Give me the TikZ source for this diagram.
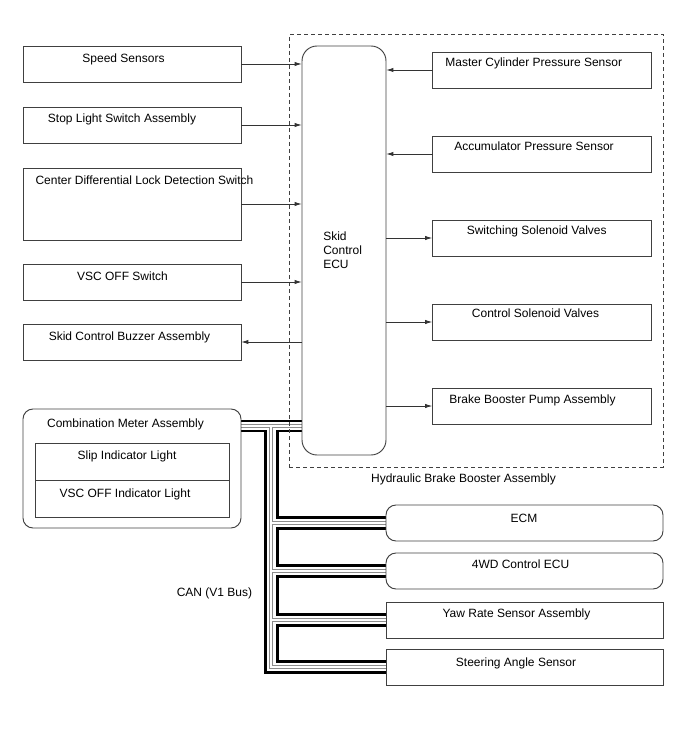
\documentclass[tikz,border=0pt]{standalone}
\usepackage{fontspec}
\setmainfont{Liberation Sans}
\usetikzlibrary{arrows.meta,calc}
\pgfdeclarelayer{bg}
\pgfsetlayers{bg,main}
\begin{document}
\begin{tikzpicture}[x=0.75pt,y=-0.75pt,
  box/.style 2 args={draw=black!75, line width=0.7pt, inner sep=0pt, outer sep=0pt,
    minimum width=#1*0.75pt, minimum height=#2*0.75pt},
  rbox/.style 2 args={box={#1}{#2}, rounded corners=7.5pt},
  dbox/.style 2 args={box={#1}{#2}, dash pattern=on 3pt off 2.25pt},
  lbl/.style={font=\fontsize{9}{10.5}\selectfont, inner sep=0pt, anchor=base},
  arr/.style={draw=black!80, line width=0.7pt, -{Latex[length=5.5pt,width=3.2pt]}},
  canblk/.style={line width=2.2pt, draw=black, line join=miter},
]
\useasboundingbox (0,0) rectangle (688,755);

% dashed hydraulic brake booster assembly
\node[dbox={374}{432.5}] (hb) at (476,250.75) {};
\node[lbl] (hbT) at (463.5,482) {Hydraulic Brake Booster Assembly};

% left boxes
\node[box={218}{36}] (ss) at (132,64) {};
\node[lbl] (ssT) at (123.5,62.3) {Speed Sensors};
\node[box={218}{36}] (sl) at (132,125) {};
\node[lbl] (slT) at (122,123) {Stop Light Switch Assembly};
\node[box={218}{72}] (cd) at (132,204) {};
\node[lbl] (cdT) at (144.5,184.5) {Center Differential Lock Detection Switch};
\node[box={218}{36}] (vo) at (132,282) {};
\node[lbl] (voT) at (122.5,280.5) {VSC OFF Switch};
\node[box={218}{36}] (bz) at (132,342) {};
\node[lbl] (bzT) at (129.5,340.5) {Skid Control Buzzer Assembly};

% combination meter
\node[rbox={218}{119}] (meter) at (132,468.5) {};
\node[lbl] (meterT) at (125.5,427) {Combination Meter Assembly};
\node[box={194}{37}] (slip) at (132,462) {};
\node[lbl] (slipT) at (127,459.5) {Slip Indicator Light};
\node[box={194}{37}] (vscind) at (132,499) {};
\node[lbl] (vscindT) at (125,497) {VSC OFF Indicator Light};

% skid control ECU
\node[box={84}{409}, rounded corners=11.25pt] (ecu) at (344,250.5) {};
\node[lbl, anchor=base west] (ecu1) at (323,240.5) {Skid};
\node[lbl, anchor=base west] (ecu2) at (323,254.5) {Control};
\node[lbl, anchor=base west] (ecu3) at (323,268.5) {ECU};

% right boxes
\node[box={219}{36}] (mc) at (542,70) {};
\node[lbl] (mcT) at (533.7,66.7) {Master Cylinder Pressure Sensor};
\node[box={219}{36}] (acc) at (542,154) {};
\node[lbl] (accT) at (534,150.7) {Accumulator Pressure Sensor};
\node[box={219}{36}] (sw) at (542,238) {};
\node[lbl] (swT) at (536.7,234) {Switching Solenoid Valves};
\node[box={219}{36}] (cs) at (542,322) {};
\node[lbl] (csT) at (535.5,317.7) {Control Solenoid Valves};
\node[box={219}{36}] (bb) at (542,406) {};
\node[lbl] (bbT) at (532.5,403) {Brake Booster Pump Assembly};

% CAN devices
\node[rbox={277}{36}] (ecm) at (524.5,523) {};
\node[lbl] (ecmT) at (524,522) {ECM};
\node[rbox={277}{36}] (wd) at (524.5,571) {};
\node[lbl] (wdT) at (520.5,568) {4WD Control ECU};
\node[box={277}{36}] (yaw) at (524.5,620) {};
\node[lbl] (yawT) at (516.5,617.5) {Yaw Rate Sensor Assembly};
\node[box={277}{36}] (st) at (524.5,667) {};
\node[lbl] (stT) at (516,666.5) {Steering Angle Sensor};

\node[lbl] (canT) at (214.5,596.5) {CAN (V1 Bus)};

% signal arrows
\draw[arr] (ss.east) -- (ss.east -| ecu.west);
\draw[arr] (sl.east) -- (sl.east -| ecu.west);
\draw[arr] (cd.east) -- (cd.east -| ecu.west);
\draw[arr] (vo.east) -- (vo.east -| ecu.west);
\draw[arr] (bz.east -| ecu.west) -- (bz.east);
\draw[arr] (mc.west) -- (mc.west -| ecu.east);
\draw[arr] (acc.west) -- (acc.west -| ecu.east);
\draw[arr] (sw.west -| ecu.east) -- (sw.west);
\draw[arr] (cs.west -| ecu.east) -- (cs.west);
\draw[arr] (bb.west -| ecu.east) -- (bb.west);

% CAN bus
\coordinate (r1) at (0,421);
\coordinate (r2) at (0,426);
\coordinate (r3) at (0,431);
\coordinate (tO) at (265.5,0);
\coordinate (tW) at (270.5,0);
\coordinate (tI) at (277.5,0);
\coordinate (ecmA) at ($(ecm.west)+(0,-5.5)$);
\coordinate (ecmB) at ($(ecm.west)+(0,5.5)$);
\coordinate (wdA) at ($(wd.west)+(0,-5.5)$);
\coordinate (wdB) at ($(wd.west)+(0,5.5)$);
\coordinate (yawA) at ($(yaw.west)+(0,-5.5)$);
\coordinate (yawB) at ($(yaw.west)+(0,5.5)$);
\coordinate (stA) at ($(st.west)+(0,-5.5)$);
\coordinate (stB) at ($(st.west)+(0,5.5)$);

\begin{pgfonlayer}{bg}
\draw[canblk] (meter.east |- r1) -- (ecu.west |- r1);
\draw[canblk] (ecu.west |- r3) -- (tI |- r3) -- (tI |- ecmA) -- (ecmA);
\draw[canblk] (ecmB) -- (tI |- ecmB) -- (tI |- wdA) -- (wdA);
\draw[canblk] (wdB) -- (tI |- wdB) -- (tI |- yawA) -- (yawA);
\draw[canblk] (yawB) -- (tI |- yawB) -- (tI |- stA) -- (stA);
\draw[canblk] (stB) -- (tO |- stB) -- (tO |- r3) -- (meter.east |- r3);
\foreach \c/\w in {black!45/3pt, white/1.5pt} {
  \draw[line width=\w, draw=\c] (meter.east |- r2) -- (ecu.west |- r2);
  \draw[line width=\w, draw=\c, line join=miter] (tW |- r2) -- (tW |- st.west) -- (st.west);
  \draw[line width=\w, draw=\c] (tW |- ecm.west) -- (ecm.west);
  \draw[line width=\w, draw=\c] (tW |- wd.west) -- (wd.west);
  \draw[line width=\w, draw=\c] (tW |- yaw.west) -- (yaw.west);
}
\end{pgfonlayer}
\end{tikzpicture}
\end{document}
